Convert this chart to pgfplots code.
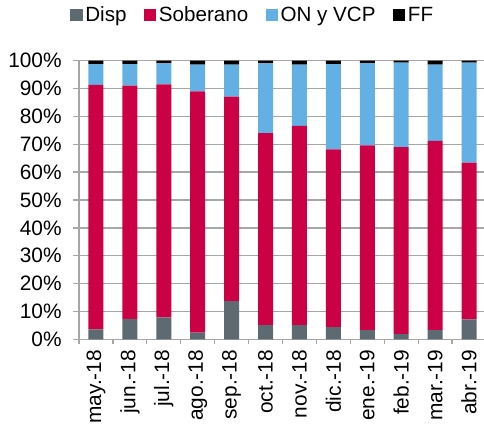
\documentclass[border=0pt]{standalone}
\usepackage{fontspec}
\setmainfont{Liberation Sans}
\usepackage{pgfplots}
\pgfplotsset{compat=1.18}
\definecolor{cdisp}{HTML}{5E6A71}
\definecolor{csob}{HTML}{CC0044}
\definecolor{con}{HTML}{62B0E4}
\definecolor{cgrid}{HTML}{A6A6A6}
\begin{document}
\begin{tikzpicture}
\begin{axis}[
  at={(0,0)}, anchor=south west,
  scale only axis, width=305.25bp, height=209bp,
  ybar stacked, bar width=0.44,
  xmin=-0.5, xmax=11.5, ymin=0, ymax=100,
  xtick={0,...,11},
  xticklabels={may.-18,jun.-18,jul.-18,ago.-18,sep.-18,oct.-18,nov.-18,dic.-18,ene.-19,feb.-19,mar.-19,abr.-19},
  minor xtick={-0.5,0.5,...,11.5},
  major x tick style={draw=none},
  minor tick length=3.75bp,
  major tick length=4.5bp,
  tick align=outside,
  tick style={cgrid, line width=1bp},
  axis x line*=bottom, axis y line*=left,
  ytick={0,10,...,100},
  ymajorgrids, grid style={cgrid, line width=1bp},
  axis line style={cgrid, line width=1.2bp},
  yticklabel={\pgfmathprintnumber{\tick}\%},
  /pgf/number format/assume math mode=true,
  ticklabel style={font=\fontsize{15.7}{18}\selectfont},
  y tick label style={xshift=-5bp},
  x tick label style={rotate=90, anchor=east, yshift=0bp},
  legend columns=4,
  legend style={at={(-0.022,1.164)}, anchor=west, draw=none, fill=none,
    font=\fontsize{15.5}{18}\selectfont, inner sep=0pt,
    /tikz/every even column/.append style={column sep=11bp}},
  legend image code/.code={\fill[#1,draw=none] (0bp,-4.65bp) rectangle (9.3bp,4.65bp);},
]
\addplot[fill=cdisp, draw=none] coordinates {(0,3.6) (1,7.3) (2,7.9) (3,2.4) (4,13.7) (5,5.1) (6,5.1) (7,4.4) (8,3.3) (9,1.9) (10,3.3) (11,7.2)};
\addplot[fill=csob, draw=none] coordinates {(0,87.7) (1,83.7) (2,83.6) (3,86.6) (4,73.4) (5,68.9) (6,71.5) (7,63.8) (8,66.3) (9,67.1) (10,67.9) (11,56.2)};
\addplot[fill=con, draw=none] coordinates {(0,7.5) (1,7.8) (2,7.5) (3,9.6) (4,11.5) (5,25.0) (6,22.0) (7,30.6) (8,29.5) (9,30.3) (10,27.4) (11,35.9)};
\addplot[fill=black, draw=none] coordinates {(0,1.2) (1,1.2) (2,1.0) (3,1.4) (4,1.4) (5,1.0) (6,1.4) (7,1.2) (8,0.9) (9,0.7) (10,1.4) (11,0.7)};
\legend{Disp,Soberano,ON y VCP,FF}
\end{axis}
\pgfresetboundingbox
\path[use as bounding box] (-59.25bp,-69.5bp) rectangle (303.75bp,254.5bp);
\end{tikzpicture}
\end{document}
